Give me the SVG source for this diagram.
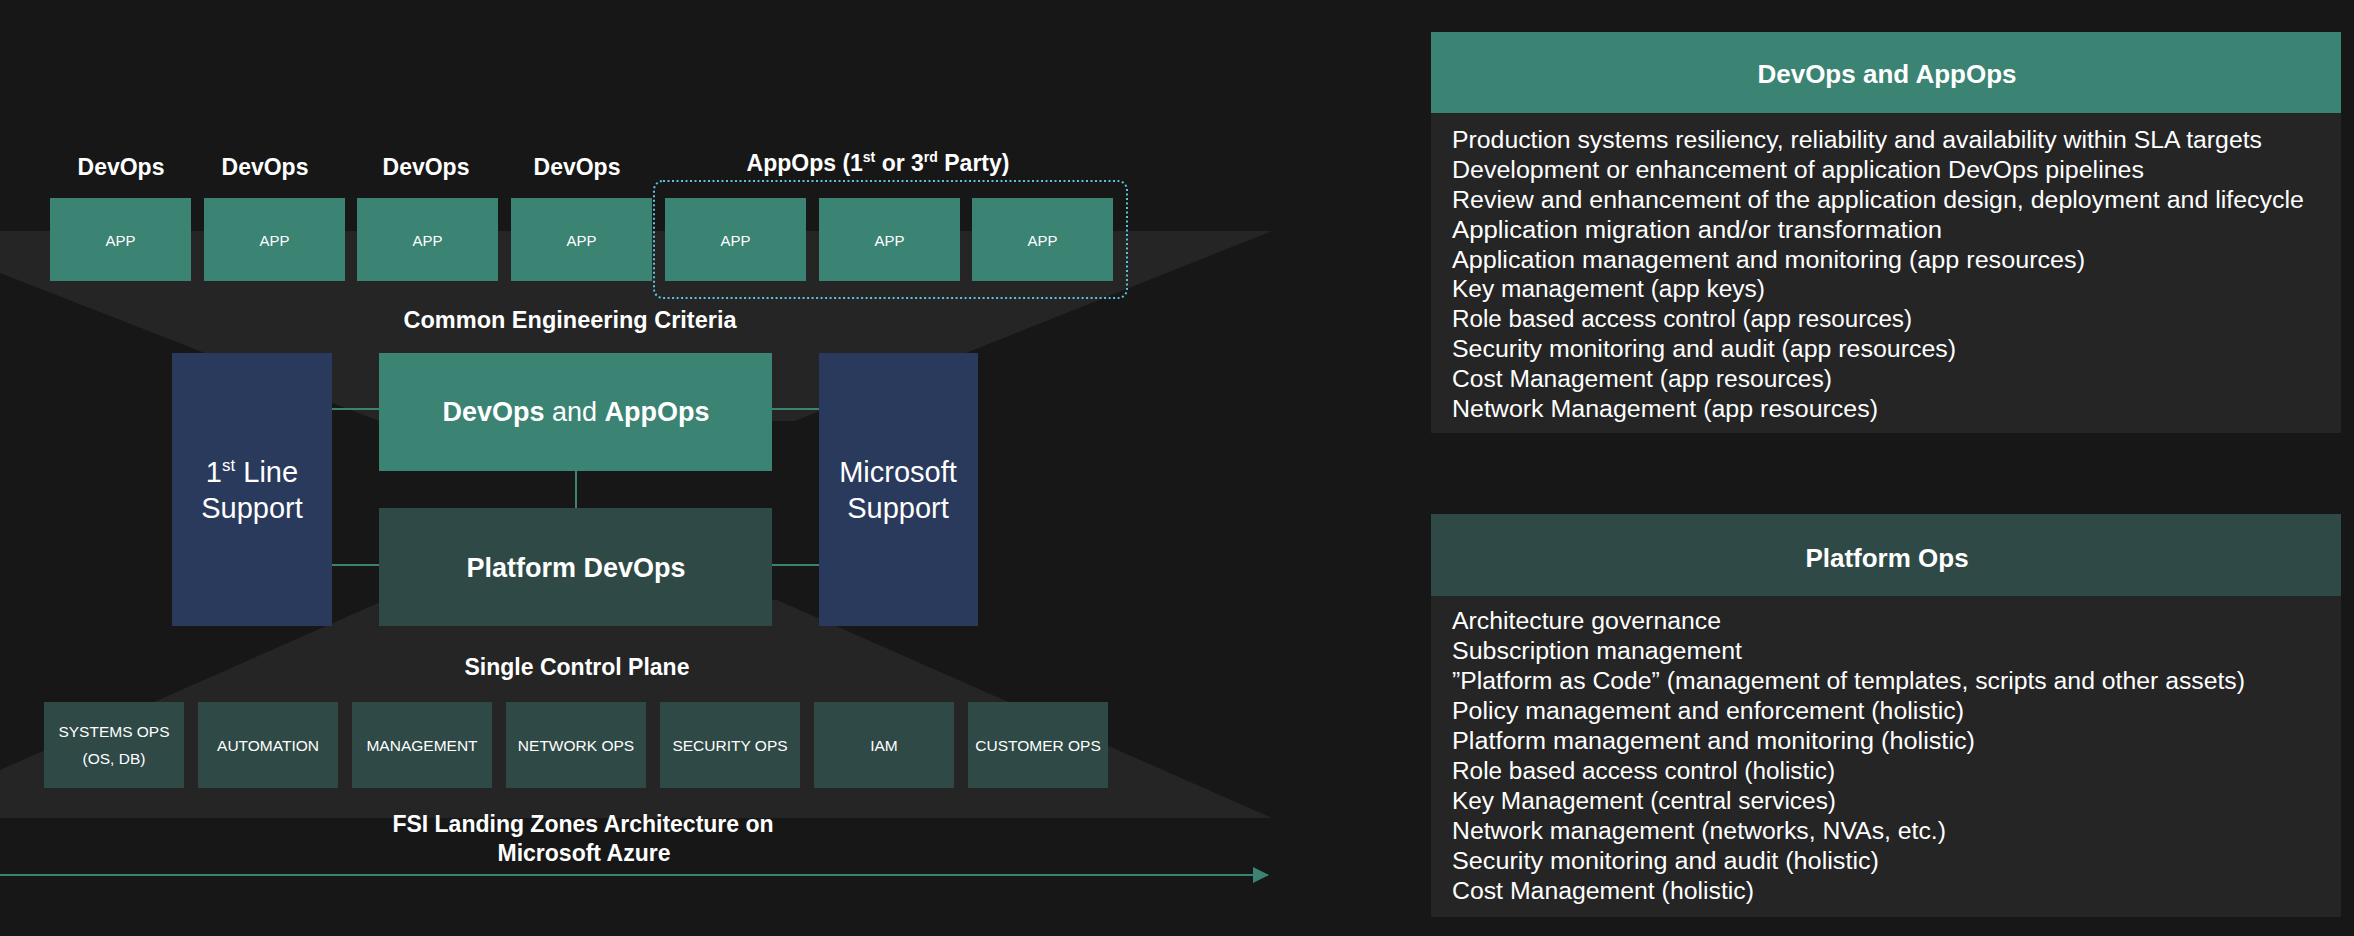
<svg xmlns="http://www.w3.org/2000/svg" width="2354" height="936" viewBox="0 0 2354 936">
<style>
text{font-family:"Liberation Sans",Arial,sans-serif;fill:#ffffff}
.lbl{font-size:23px;font-weight:bold;text-anchor:middle}
.app{fill:#3b8373}
.ops{fill:#2f4a46}
.sup{fill:#2a3a5c}
.apptxt{font-size:15px;text-anchor:middle}
.optxt{font-size:15.5px;text-anchor:middle}
.big{font-size:27px;font-weight:bold;text-anchor:middle}
.side{font-size:29px;text-anchor:middle}
.conn{stroke:#3b8373;stroke-width:2;fill:none}
.li{font-size:23px}
.hd{font-size:26px;font-weight:bold;text-anchor:middle}
</style>
<defs>
<marker id="arr" markerWidth="16" markerHeight="16" refX="15" refY="8" orient="auto" markerUnits="userSpaceOnUse" viewBox="0 0 16 16">
<path d="M0,0 L16,8 L0,16 z" fill="#3b8373"/>
</marker>
</defs>
<rect width="2354" height="936" fill="#171717"/>
<g id="background">
<polygon points="0,231 1272,231 795,421 379,421 0,273" fill="#252525"/>
<polygon points="385,600 777,600 1272,818 0,818 0,770" fill="#252525"/>
</g>
<g id="labels">
<text class="lbl" x="121" y="175">DevOps</text>
<text class="lbl" x="265" y="175">DevOps</text>
<text class="lbl" x="426" y="175">DevOps</text>
<text class="lbl" x="577" y="175">DevOps</text>
<text class="lbl" x="878" y="171">AppOps (1<tspan font-size="14" dy="-9">st</tspan><tspan dy="9"> or 3</tspan><tspan font-size="14" dy="-9">rd</tspan><tspan dy="9"> Party)</tspan></text>
<text class="lbl" x="570" y="328" style="font-size:23.5px">Common Engineering Criteria</text>
<text class="lbl" x="577" y="675">Single Control Plane</text>
<text class="lbl" x="583" y="832">FSI Landing Zones Architecture on</text>
<text class="lbl" x="584" y="861">Microsoft Azure</text>
</g>
<g id="appops-group">
<rect x="654" y="181" width="473" height="117" rx="9" fill="none" stroke="#5bc4dd" stroke-width="2" stroke-dasharray="2 2.5"/>
</g>
<g id="app1"><rect class="app" x="50" y="198" width="141" height="83"/><text class="apptxt" x="120.5" y="246">APP</text></g>
<g id="app2"><rect class="app" x="204" y="198" width="141" height="83"/><text class="apptxt" x="274.5" y="246">APP</text></g>
<g id="app3"><rect class="app" x="357" y="198" width="141" height="83"/><text class="apptxt" x="427.5" y="246">APP</text></g>
<g id="app4"><rect class="app" x="511" y="198" width="141" height="83"/><text class="apptxt" x="581.5" y="246">APP</text></g>
<g id="app5"><rect class="app" x="665" y="198" width="141" height="83"/><text class="apptxt" x="735.5" y="246">APP</text></g>
<g id="app6"><rect class="app" x="819" y="198" width="141" height="83"/><text class="apptxt" x="889.5" y="246">APP</text></g>
<g id="app7"><rect class="app" x="972" y="198" width="141" height="83"/><text class="apptxt" x="1042.5" y="246">APP</text></g>
<g id="connectors">
<line class="conn" x1="332" y1="409" x2="379" y2="409"/>
<line class="conn" x1="772" y1="409" x2="819" y2="409"/>
<line class="conn" x1="332" y1="565" x2="379" y2="565"/>
<line class="conn" x1="772" y1="565" x2="819" y2="565"/>
<line class="conn" x1="576" y1="471" x2="576" y2="508"/>
<line class="conn" x1="0" y1="875" x2="1268" y2="875" stroke-width="2.5" marker-end="url(#arr)"/>
</g>
<g id="first-line-support">
<rect class="sup" x="172" y="353" width="160" height="273"/>
<text class="side" x="252" y="482">1<tspan font-size="17" dy="-11">st</tspan><tspan dy="11"> Line</tspan></text>
<text class="side" x="252" y="518">Support</text>
</g>
<g id="microsoft-support">
<rect class="sup" x="819" y="353" width="159" height="273"/>
<text class="side" x="898" y="482">Microsoft</text>
<text class="side" x="898" y="518">Support</text>
</g>
<g id="devops-appops">
<rect class="app" x="379" y="353" width="393" height="118"/>
<text class="big" x="576" y="421">DevOps<tspan font-weight="normal"> and </tspan>AppOps</text>
</g>
<g id="platform-devops">
<rect class="ops" x="379" y="508" width="393" height="118"/>
<text class="big" x="576" y="577">Platform DevOps</text>
</g>
<g id="ops1"><rect class="ops" x="44" y="702" width="140" height="86"/><text class="optxt" x="114" y="737">SYSTEMS OPS</text><text class="optxt" x="114" y="764">(OS, DB)</text></g>
<g id="ops2"><rect class="ops" x="198" y="702" width="140" height="86"/><text class="optxt" x="268" y="751">AUTOMATION</text></g>
<g id="ops3"><rect class="ops" x="352" y="702" width="140" height="86"/><text class="optxt" x="422" y="751">MANAGEMENT</text></g>
<g id="ops4"><rect class="ops" x="506" y="702" width="140" height="86"/><text class="optxt" x="576" y="751">NETWORK OPS</text></g>
<g id="ops5"><rect class="ops" x="660" y="702" width="140" height="86"/><text class="optxt" x="730" y="751">SECURITY OPS</text></g>
<g id="ops6"><rect class="ops" x="814" y="702" width="140" height="86"/><text class="optxt" x="884" y="751">IAM</text></g>
<g id="ops7"><rect class="ops" x="968" y="702" width="140" height="86"/><text class="optxt" x="1038" y="751">CUSTOMER OPS</text></g>
<g id="panel-devops-appops">
<rect x="1431" y="32" width="910" height="81" fill="#3b8373"/>
<rect x="1431" y="113" width="910" height="320" fill="#252525"/>
<text class="hd" x="1887" y="83">DevOps and AppOps</text>
<text class="li" x="1452" y="148" textLength="810" lengthAdjust="spacingAndGlyphs">Production systems resiliency, reliability and availability within SLA targets</text>
<text class="li" x="1452" y="178" textLength="692" lengthAdjust="spacingAndGlyphs">Development or enhancement of application DevOps pipelines</text>
<text class="li" x="1452" y="208" textLength="852" lengthAdjust="spacingAndGlyphs">Review and enhancement of the application design, deployment and lifecycle</text>
<text class="li" x="1452" y="238" textLength="490" lengthAdjust="spacingAndGlyphs">Application migration and/or transformation</text>
<text class="li" x="1452" y="268" textLength="633" lengthAdjust="spacingAndGlyphs">Application management and monitoring (app resources)</text>
<text class="li" x="1452" y="297" textLength="313" lengthAdjust="spacingAndGlyphs">Key management (app keys)</text>
<text class="li" x="1452" y="327" textLength="460" lengthAdjust="spacingAndGlyphs">Role based access control (app resources)</text>
<text class="li" x="1452" y="357" textLength="504" lengthAdjust="spacingAndGlyphs">Security monitoring and audit (app resources)</text>
<text class="li" x="1452" y="387" textLength="380" lengthAdjust="spacingAndGlyphs">Cost Management (app resources)</text>
<text class="li" x="1452" y="417" textLength="426" lengthAdjust="spacingAndGlyphs">Network Management (app resources)</text>
</g>
<g id="panel-platform-ops">
<rect x="1431" y="514" width="910" height="82" fill="#2f4a46"/>
<rect x="1431" y="596" width="910" height="321" fill="#252525"/>
<text class="hd" x="1887" y="567">Platform Ops</text>
<text class="li" x="1452" y="629" textLength="269" lengthAdjust="spacingAndGlyphs">Architecture governance</text>
<text class="li" x="1452" y="659" textLength="290" lengthAdjust="spacingAndGlyphs">Subscription management</text>
<text class="li" x="1452" y="689" textLength="793" lengthAdjust="spacingAndGlyphs">”Platform as Code” (management of templates, scripts and other assets)</text>
<text class="li" x="1452" y="719" textLength="512" lengthAdjust="spacingAndGlyphs">Policy management and enforcement (holistic)</text>
<text class="li" x="1452" y="749" textLength="523" lengthAdjust="spacingAndGlyphs">Platform management and monitoring (holistic)</text>
<text class="li" x="1452" y="779" textLength="383" lengthAdjust="spacingAndGlyphs">Role based access control (holistic)</text>
<text class="li" x="1452" y="809" textLength="384" lengthAdjust="spacingAndGlyphs">Key Management (central services)</text>
<text class="li" x="1452" y="839" textLength="494" lengthAdjust="spacingAndGlyphs">Network management (networks, NVAs, etc.)</text>
<text class="li" x="1452" y="869" textLength="427" lengthAdjust="spacingAndGlyphs">Security monitoring and audit (holistic)</text>
<text class="li" x="1452" y="899" textLength="302" lengthAdjust="spacingAndGlyphs">Cost Management (holistic)</text>
</g>
</svg>
